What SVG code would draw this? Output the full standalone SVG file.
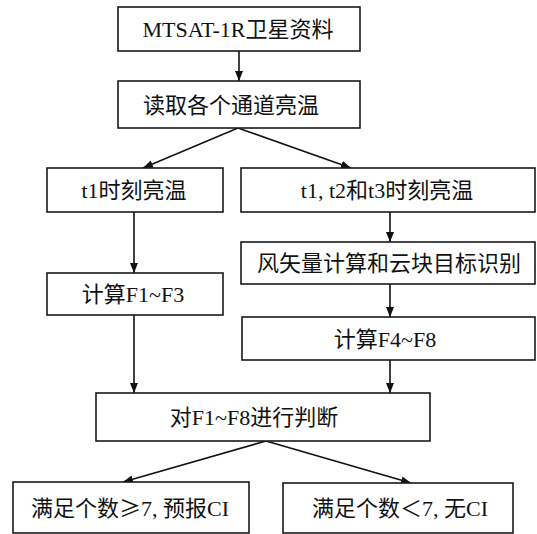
<svg xmlns="http://www.w3.org/2000/svg" width="537" height="534" viewBox="0 0 537 534">
<defs>
<marker id="ah" viewBox="0 0 10 8" refX="10" refY="4" markerWidth="10" markerHeight="8" markerUnits="userSpaceOnUse" orient="auto">
<path d="M0,0 L10,4 L0,8 Z" fill="#111"/>
</marker>
<style>
.box{fill:#fff;stroke:#1a1a1a;stroke-width:1.6}
.t{font-family:"Liberation Serif","Noto Sans CJK SC",serif;font-size:22px;fill:#111;text-anchor:middle}
.cjk{font-family:"Noto Sans CJK SC",sans-serif}
.c{stroke:#111;stroke-width:1.6;fill:none}
</style>
</defs>
<rect width="537" height="534" fill="#fff"/>
<g id="connectors">
<line class="c" x1="239" y1="51" x2="239" y2="81" marker-end="url(#ah)"/>
<line class="c" x1="238" y1="128" x2="143" y2="168" marker-end="url(#ah)"/>
<line class="c" x1="238" y1="128" x2="351" y2="168" marker-end="url(#ah)"/>
<line class="c" x1="134" y1="212" x2="134" y2="273" marker-end="url(#ah)"/>
<line class="c" x1="134" y1="315" x2="134" y2="393" marker-end="url(#ah)"/>
<line class="c" x1="390" y1="212" x2="390" y2="242" marker-end="url(#ah)"/>
<line class="c" x1="390" y1="284" x2="390" y2="317" marker-end="url(#ah)"/>
<line class="c" x1="390" y1="360" x2="390" y2="393" marker-end="url(#ah)"/>
<line class="c" x1="266" y1="441" x2="123" y2="482" marker-end="url(#ah)"/>
<line class="c" x1="266" y1="441" x2="411" y2="483" marker-end="url(#ah)"/>
</g>
<g id="n1"><rect class="box" x="118" y="7" width="242" height="44"/><text class="t" x="238" y="37">MTSAT-1R卫星资料</text></g>
<g id="n2"><rect class="box" x="118" y="81" width="242" height="47"/><text class="t" x="231" y="113">读取各个通道亮温</text></g>
<g id="n3"><rect class="box" x="47" y="168" width="176" height="44"/><text class="t" x="134" y="198">t1时刻亮温</text></g>
<g id="n4"><rect class="box" x="241" y="168" width="294" height="44"/><text class="t" x="387" y="198">t1, t2和t3时刻亮温</text></g>
<g id="n5"><rect class="box" x="241" y="242" width="294" height="42"/><text class="t" x="389" y="271">风矢量计算和云块目标识别</text></g>
<g id="n6"><rect class="box" x="47" y="273" width="176" height="42"/><text class="t" x="133" y="302">计算F1~F3</text></g>
<g id="n7"><rect class="box" x="242" y="317" width="293" height="43"/><text class="t" x="385" y="347">计算F4~F8</text></g>
<g id="n8"><rect class="box" x="96" y="393" width="334" height="48"/><text class="t" x="254" y="425">对F1~F8进行判断</text></g>
<g id="n9"><rect class="box" x="13" y="482" width="236" height="51"/><text class="t" x="130" y="516">满足个数<tspan class="cjk">≥</tspan>7, 预报CI</text></g>
<g id="n10"><rect class="box" x="283" y="483" width="230" height="50"/><text class="t" x="400" y="516">满足个数＜7, 无CI</text></g>
</svg>
